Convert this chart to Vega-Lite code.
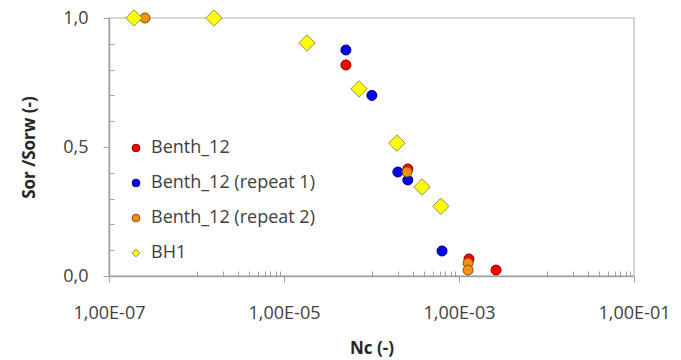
{
  "$schema": "https://vega.github.io/schema/vega-lite/v6.json",
  "width": 525,
  "height": 258,
  "autosize": {"type": "none"},
  "padding": {"left": 109, "top": 18, "right": 47, "bottom": 84},
  "background": "white",
  "config": {
    "view": {"stroke": "#c8c8c8", "strokeWidth": 1.5},
    "font": "Open Sans"
  },
  "data": {
    "values": [
      {"series": "Benth_12", "nc": 5.1e-5, "s": 0.818},
      {"series": "Benth_12", "nc": 2.6e-4, "s": 0.415},
      {"series": "Benth_12", "nc": 1.3e-3, "s": 0.066},
      {"series": "Benth_12", "nc": 2.65e-3, "s": 0.023},
      {"series": "Benth_12 (repeat 1)", "nc": 5.1e-5, "s": 0.876},
      {"series": "Benth_12 (repeat 1)", "nc": 1.01e-4, "s": 0.70},
      {"series": "Benth_12 (repeat 1)", "nc": 2.0e-4, "s": 0.403},
      {"series": "Benth_12 (repeat 1)", "nc": 2.6e-4, "s": 0.372},
      {"series": "Benth_12 (repeat 1)", "nc": 6.4e-4, "s": 0.097},
      {"series": "Benth_12 (repeat 2)", "nc": 2.58e-7, "s": 1.0},
      {"series": "Benth_12 (repeat 2)", "nc": 2.55e-4, "s": 0.403},
      {"series": "Benth_12 (repeat 2)", "nc": 1.27e-3, "s": 0.05},
      {"series": "Benth_12 (repeat 2)", "nc": 1.27e-3, "s": 0.023},
      {"series": "BH1", "nc": 1.93e-7, "s": 1.0},
      {"series": "BH1", "nc": 1.58e-6, "s": 1.0},
      {"series": "BH1", "nc": 1.83e-5, "s": 0.903},
      {"series": "BH1", "nc": 7.2e-5, "s": 0.725},
      {"series": "BH1", "nc": 1.95e-4, "s": 0.515},
      {"series": "BH1", "nc": 3.78e-4, "s": 0.345},
      {"series": "BH1", "nc": 6.2e-4, "s": 0.27}
    ]
  },
  "mark": {"type": "point", "filled": true, "opacity": 1, "strokeWidth": 1, "strokeOpacity": 1, "clip": false},
  "encoding": {
    "x": {
      "field": "nc", "type": "quantitative",
      "scale": {"type": "log", "domain": [1e-7, 0.1], "nice": false},
      "axis": {
        "title": "Nc (-)",
        "values": [1e-7, 1e-6, 2e-6, 3e-6, 4e-6, 5e-6, 6e-6, 7e-6, 8e-6, 9e-6, 1e-5, 1e-4, 2e-4, 3e-4, 4e-4, 5e-4, 6e-4, 7e-4, 8e-4, 9e-4, 1e-3, 1e-2, 2e-2, 3e-2, 4e-2, 5e-2, 6e-2, 7e-2, 8e-2, 9e-2, 0.1],
        "labelExpr": "(datum.value == 1e-7 || datum.value == 1e-5 || datum.value == 1e-3 || datum.value == 0.1) ? '1,00E-0' + (-round(log(datum.value)/LN10)) : ''",
        "grid": false,
        "domainColor": "#a0a0a0",
        "domainWidth": 1.5,
        "tickColor": "#a0a0a0",
        "tickSize": {"condition": {"test": "datum.value == 1e-7 || datum.value == 1e-5 || datum.value == 1e-3 || datum.value == 0.1", "value": 6}, "value": -5},
        "labelFontSize": 18,
        "labelColor": "#404040",
        "labelPadding": 22,
        "labelFlush": false,
        "labelOverlap": false,
        "titleFontSize": 17,
        "titleFontWeight": "bold",
        "titleColor": "#262626",
        "titlePadding": 18
      }
    },
    "y": {
      "field": "s", "type": "quantitative",
      "scale": {"domain": [0, 1], "nice": false},
      "axis": {
        "title": "Sor /Sorw (-)",
        "values": [0, 0.1, 0.2, 0.3, 0.4, 0.5, 0.6, 0.7, 0.8, 0.9, 1],
        "labelExpr": "(datum.value == 0 || datum.value == 0.5 || datum.value == 1) ? replace(format(datum.value, '.1f'), '.', ',') : ''",
        "grid": false,
        "domainColor": "#a0a0a0",
        "domainWidth": 1.5,
        "tickColor": "#a0a0a0",
        "tickSize": {"condition": {"test": "datum.value == 0 || datum.value == 0.5 || datum.value == 1", "value": 6}, "value": -5},
        "labelFontSize": 18,
        "labelColor": "#404040",
        "labelPadding": 15,
        "labelFlush": false,
        "labelOverlap": false,
        "titleFontSize": 17,
        "titleFontWeight": "bold",
        "titleColor": "#262626",
        "titlePadding": 24
      }
    },
    "color": {
      "field": "series", "type": "nominal",
      "scale": {"domain": ["Benth_12", "Benth_12 (repeat 1)", "Benth_12 (repeat 2)", "BH1"], "range": ["#ff0000", "#0000ff", "#f39016", "#ffff00"]},
      "legend": {
        "title": null,
        "orient": "none",
        "legendX": 18,
        "legendY": 121,
        "labelFontSize": 18,
        "labelColor": "#404040",
        "labelLimit": 400,
        "symbolSize": 60,
        "rowPadding": 17,
        "labelOffset": 6,
        "symbolStrokeWidth": 1
      }
    },
    "stroke": {
      "field": "series", "type": "nominal",
      "scale": {"domain": ["Benth_12", "Benth_12 (repeat 1)", "Benth_12 (repeat 2)", "BH1"], "range": ["#8b0000", "#00006e", "#8b4a00", "#909060"]},
      "legend": null
    },
    "shape": {
      "field": "series", "type": "nominal",
      "scale": {"domain": ["Benth_12", "Benth_12 (repeat 1)", "Benth_12 (repeat 2)", "BH1"], "range": ["circle", "circle", "circle", "diamond"]},
      "legend": {
        "title": null,
        "orient": "none",
        "legendX": 18,
        "legendY": 121,
        "labelFontSize": 18,
        "labelColor": "#404040",
        "labelLimit": 400,
        "symbolSize": 60,
        "rowPadding": 17,
        "labelOffset": 6
      }
    },
    "size": {
      "condition": {"test": "datum.series == 'BH1'", "value": 270},
      "value": 100
    }
  }
}
